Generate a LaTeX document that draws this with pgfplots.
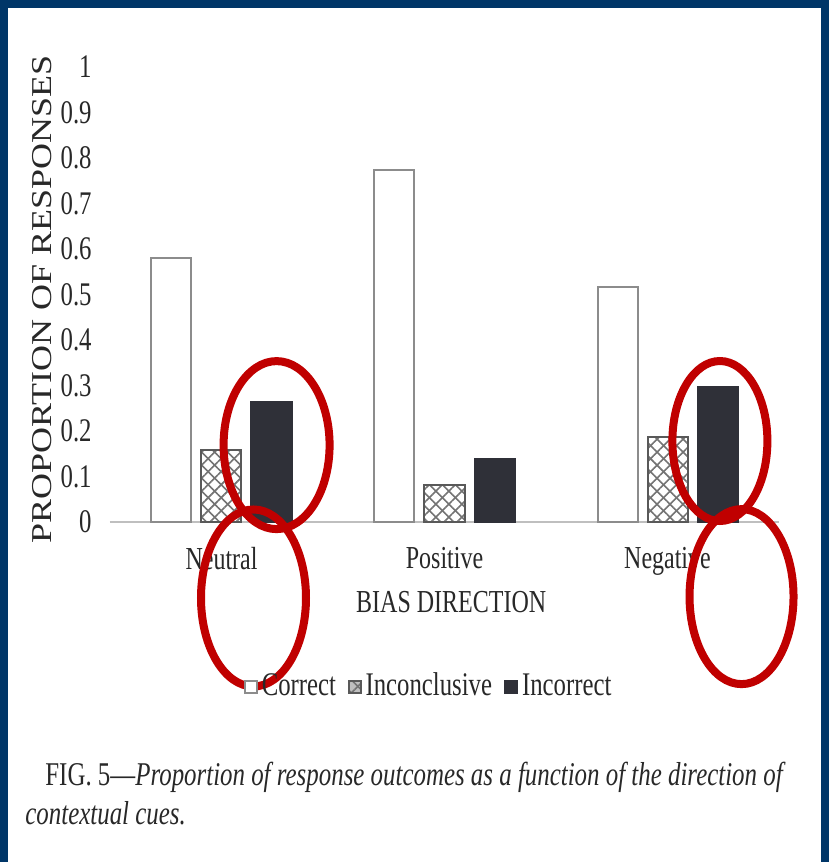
\documentclass[border=0pt]{standalone}
\usepackage{fontspec}
\setmainfont[FakeStretch=0.75]{Liberation Serif}
\newfontfamily\plainserif{Liberation Serif}
\usepackage{graphicx}
\usepackage{pgfplots}
\pgfplotsset{compat=1.18}
\usetikzlibrary{patterns.meta}
\definecolor{frameblue}{RGB}{0,54,104}
\definecolor{barblack}{RGB}{47,48,56}
\definecolor{ringred}{RGB}{192,0,0}
\definecolor{txt}{RGB}{40,40,40}
\begin{document}
\begin{tikzpicture}[font=\fontsize{16}{19}\selectfont, text=txt]
\fill[frameblue] (-55pt,-170pt) rectangle (359.5pt,261pt);
\fill[white] (-51pt,-170pt) rectangle (355.5pt,257pt);
\begin{axis}[
  at={(0,0)}, anchor=south west,
  scale only axis, width=334.5pt, height=227.5pt,
  xmin=-0.5, xmax=2.5, ymin=0, ymax=1,
  clip=false,
  axis x line*=bottom, axis y line*=left,
  y axis line style={draw=none},
  x axis line style={draw=black!25, line width=1pt},
  major tick length=0pt,
  xtick={0,1,2}, xticklabels={Neutral,Positive,Negative},
  ytick={0,0.1,...,1.0},
  yticklabels={0,0.1,0.2,0.3,0.4,0.5,0.6,0.7,0.8,0.9,1},
  /pgf/number format/assume math mode=true,
  yticklabel style={anchor=east, inner sep=0pt, xshift=-9pt, font=\fontsize{16.5}{19}\selectfont},
  xticklabel style={anchor=north, inner sep=0pt, yshift=-12.5pt},
  ylabel={\scalebox{1}[0.8]{\plainserif\fontsize{18}{21}\selectfont PROPORTION OF RESPONSES}},
  xlabel={BIAS DIRECTION},
  every axis y label/.style={at={(axis description cs:-0.1016,0.49)}, rotate=90, anchor=center},
  every axis x label/.style={at={(axis description cs:0.51,-0.176)}, anchor=center},
  ybar, bar width=20pt,
  legend style={draw=none, fill=none, at={(axis description cs:0.478,-0.36)}, anchor=center,
    legend columns=3, /tikz/every even column/.append style={column sep=4pt},
    /tikz/every odd column/.append style={column sep=0pt}, inner sep=0pt,
    font=\fontsize{16.5}{19}\selectfont},
  legend cell align=left,
]
\addplot[bar shift=-25pt, draw=black!45, line width=1pt, fill=white,
  legend image code/.code={\draw[draw=black!45, line width=0.8pt, fill=white] (0pt,-3.5pt) rectangle (6pt,2.5pt);}]
  coordinates {(0,0.58) (1,0.774) (2,0.516)};
\addlegendentry{Correct}
\addplot[bar shift=0pt, draw=black!65, line width=1pt, fill=white,
  postaction={pattern={Lines[angle=45,distance=4.6pt,line width=0.8pt]}, pattern color=black!55},
  postaction={pattern={Lines[angle=-45,distance=4.6pt,line width=0.8pt]}, pattern color=black!55},
  legend image code/.code={\draw[draw=black!65, line width=0.8pt, fill=black!25] (0pt,-3.5pt) rectangle (6pt,2.5pt);}]
  coordinates {(0,0.158) (1,0.081) (2,0.187)};
\addlegendentry{Inconclusive}
\addplot[bar shift=25pt, draw=barblack, line width=1pt, fill=barblack,
  legend image code/.code={\fill[barblack] (0pt,-3.5pt) rectangle (6pt,2.5pt);}]
  coordinates {(0,0.264) (1,0.138) (2,0.297)};
\addlegendentry{Incorrect}
\draw[ringred, line width=4pt] (axis cs:0.247,0.169) ellipse [x radius=26.5pt, y radius=42pt];
\draw[ringred, line width=4pt] (axis cs:0.1435,-0.167) ellipse [x radius=26.25pt, y radius=44.25pt];
\draw[ringred, line width=4pt] (axis cs:2.235,0.178) ellipse [x radius=23.75pt, y radius=40pt];
\draw[ringred, line width=4pt] (axis cs:2.332,-0.164) ellipse [x radius=26pt, y radius=43.75pt];
\end{axis}
\node[anchor=base west, inner sep=0pt, font=\fontsize{16.6}{19}\selectfont] at (-32.5pt,-131.5pt) {FIG. 5---\textit{Proportion of response outcomes as a function of the direction of}};
\node[anchor=base west, inner sep=0pt, font=\fontsize{16.6}{19}\selectfont] at (-42.5pt,-151pt) {\textit{contextual cues.}};
\pgfresetboundingbox
\path (-55pt,-170pt) rectangle (359.5pt,261pt);
\end{tikzpicture}
\end{document}
